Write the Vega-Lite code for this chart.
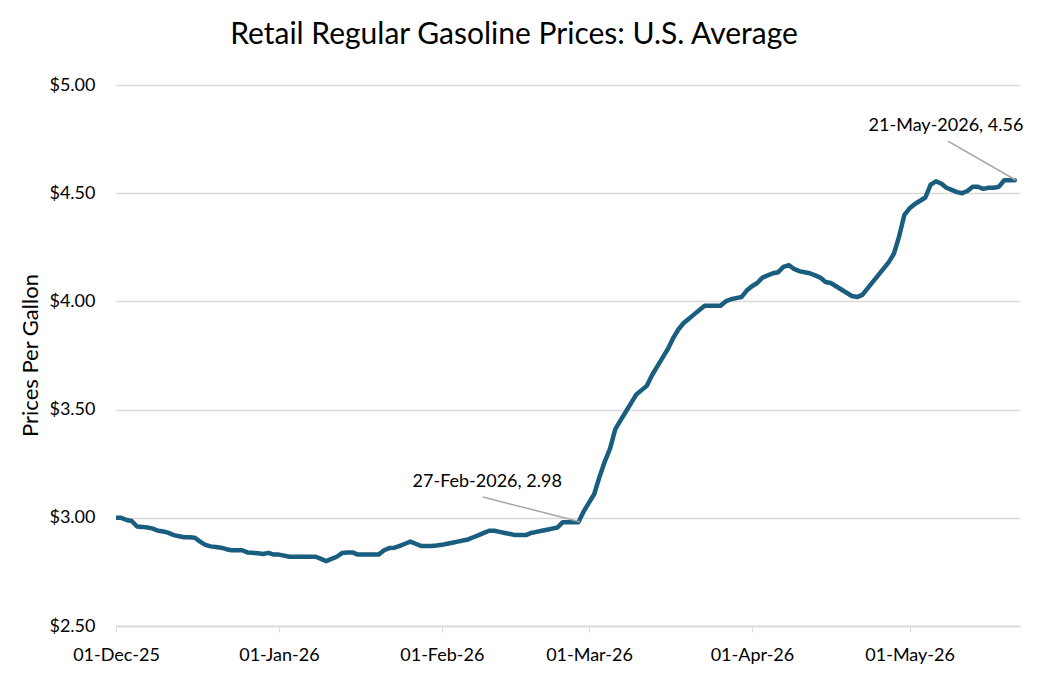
{
  "$schema": "https://vega.github.io/schema/vega-lite/v6.json",
  "width": 904,
  "height": 541,
  "autosize": {"type": "none"},
  "padding": {"left": 116, "top": 85, "right": 24, "bottom": 54},
  "background": "white",
  "config": {"view": {"stroke": null}, "font": "Lato"},
  "title": {"text": "Retail Regular Gasoline Prices: U.S. Average", "fontSize": 30, "fontWeight": "normal", "color": "#000000", "anchor": "middle", "dx": -54, "offset": 26, "font": "Lato"},
  "datasets": {
    "prices": [
      {"date": "2025-12-01", "price": 3.00}, {"date": "2025-12-02", "price": 3.00}, {"date": "2025-12-03", "price": 2.99},
      {"date": "2025-12-04", "price": 2.985}, {"date": "2025-12-05", "price": 2.96}, {"date": "2025-12-06", "price": 2.958},
      {"date": "2025-12-07", "price": 2.955}, {"date": "2025-12-08", "price": 2.95}, {"date": "2025-12-09", "price": 2.94},
      {"date": "2025-12-10", "price": 2.937}, {"date": "2025-12-11", "price": 2.93}, {"date": "2025-12-12", "price": 2.92},
      {"date": "2025-12-13", "price": 2.915}, {"date": "2025-12-14", "price": 2.91}, {"date": "2025-12-15", "price": 2.91},
      {"date": "2025-12-16", "price": 2.908}, {"date": "2025-12-17", "price": 2.89}, {"date": "2025-12-18", "price": 2.875},
      {"date": "2025-12-19", "price": 2.868}, {"date": "2025-12-20", "price": 2.865}, {"date": "2025-12-21", "price": 2.862},
      {"date": "2025-12-22", "price": 2.855}, {"date": "2025-12-23", "price": 2.85}, {"date": "2025-12-24", "price": 2.85},
      {"date": "2025-12-25", "price": 2.85}, {"date": "2025-12-26", "price": 2.84}, {"date": "2025-12-27", "price": 2.838},
      {"date": "2025-12-28", "price": 2.836}, {"date": "2025-12-29", "price": 2.833}, {"date": "2025-12-30", "price": 2.838},
      {"date": "2025-12-31", "price": 2.83}, {"date": "2026-01-01", "price": 2.83}, {"date": "2026-01-02", "price": 2.825},
      {"date": "2026-01-03", "price": 2.82}, {"date": "2026-01-04", "price": 2.82}, {"date": "2026-01-05", "price": 2.82},
      {"date": "2026-01-06", "price": 2.82}, {"date": "2026-01-07", "price": 2.82}, {"date": "2026-01-08", "price": 2.82},
      {"date": "2026-01-09", "price": 2.81}, {"date": "2026-01-10", "price": 2.80}, {"date": "2026-01-11", "price": 2.81},
      {"date": "2026-01-12", "price": 2.82}, {"date": "2026-01-13", "price": 2.837}, {"date": "2026-01-14", "price": 2.84},
      {"date": "2026-01-15", "price": 2.84}, {"date": "2026-01-16", "price": 2.83}, {"date": "2026-01-17", "price": 2.83},
      {"date": "2026-01-18", "price": 2.83}, {"date": "2026-01-19", "price": 2.83}, {"date": "2026-01-20", "price": 2.83},
      {"date": "2026-01-21", "price": 2.85}, {"date": "2026-01-22", "price": 2.86}, {"date": "2026-01-23", "price": 2.862},
      {"date": "2026-01-24", "price": 2.87}, {"date": "2026-01-25", "price": 2.88}, {"date": "2026-01-26", "price": 2.89},
      {"date": "2026-01-27", "price": 2.88}, {"date": "2026-01-28", "price": 2.87}, {"date": "2026-01-29", "price": 2.87},
      {"date": "2026-01-30", "price": 2.87}, {"date": "2026-01-31", "price": 2.872}, {"date": "2026-02-01", "price": 2.875},
      {"date": "2026-02-02", "price": 2.88}, {"date": "2026-02-03", "price": 2.885}, {"date": "2026-02-04", "price": 2.89},
      {"date": "2026-02-05", "price": 2.895}, {"date": "2026-02-06", "price": 2.90}, {"date": "2026-02-07", "price": 2.91},
      {"date": "2026-02-08", "price": 2.92}, {"date": "2026-02-09", "price": 2.93}, {"date": "2026-02-10", "price": 2.94},
      {"date": "2026-02-11", "price": 2.94}, {"date": "2026-02-12", "price": 2.935}, {"date": "2026-02-13", "price": 2.93},
      {"date": "2026-02-14", "price": 2.925}, {"date": "2026-02-15", "price": 2.92}, {"date": "2026-02-16", "price": 2.92},
      {"date": "2026-02-17", "price": 2.92}, {"date": "2026-02-18", "price": 2.93}, {"date": "2026-02-19", "price": 2.935},
      {"date": "2026-02-20", "price": 2.94}, {"date": "2026-02-21", "price": 2.945}, {"date": "2026-02-22", "price": 2.95},
      {"date": "2026-02-23", "price": 2.955}, {"date": "2026-02-24", "price": 2.98}, {"date": "2026-02-25", "price": 2.98},
      {"date": "2026-02-26", "price": 2.98}, {"date": "2026-02-27", "price": 2.98}, {"date": "2026-02-28", "price": 3.03},
      {"date": "2026-03-01", "price": 3.07}, {"date": "2026-03-02", "price": 3.11}, {"date": "2026-03-03", "price": 3.19},
      {"date": "2026-03-04", "price": 3.26}, {"date": "2026-03-05", "price": 3.32}, {"date": "2026-03-06", "price": 3.41},
      {"date": "2026-03-07", "price": 3.45}, {"date": "2026-03-08", "price": 3.49}, {"date": "2026-03-09", "price": 3.53},
      {"date": "2026-03-10", "price": 3.57}, {"date": "2026-03-11", "price": 3.59}, {"date": "2026-03-12", "price": 3.61},
      {"date": "2026-03-13", "price": 3.66}, {"date": "2026-03-14", "price": 3.70}, {"date": "2026-03-15", "price": 3.74},
      {"date": "2026-03-16", "price": 3.78}, {"date": "2026-03-17", "price": 3.83}, {"date": "2026-03-18", "price": 3.87},
      {"date": "2026-03-19", "price": 3.90}, {"date": "2026-03-20", "price": 3.92}, {"date": "2026-03-21", "price": 3.94},
      {"date": "2026-03-22", "price": 3.96}, {"date": "2026-03-23", "price": 3.98}, {"date": "2026-03-24", "price": 3.98},
      {"date": "2026-03-25", "price": 3.98}, {"date": "2026-03-26", "price": 3.98}, {"date": "2026-03-27", "price": 4.00},
      {"date": "2026-03-28", "price": 4.01}, {"date": "2026-03-29", "price": 4.015}, {"date": "2026-03-30", "price": 4.02},
      {"date": "2026-03-31", "price": 4.05}, {"date": "2026-04-01", "price": 4.07}, {"date": "2026-04-02", "price": 4.085},
      {"date": "2026-04-03", "price": 4.11}, {"date": "2026-04-04", "price": 4.12}, {"date": "2026-04-05", "price": 4.13},
      {"date": "2026-04-06", "price": 4.135}, {"date": "2026-04-07", "price": 4.16}, {"date": "2026-04-08", "price": 4.168},
      {"date": "2026-04-09", "price": 4.15}, {"date": "2026-04-10", "price": 4.14}, {"date": "2026-04-11", "price": 4.135},
      {"date": "2026-04-12", "price": 4.13}, {"date": "2026-04-13", "price": 4.12}, {"date": "2026-04-14", "price": 4.11},
      {"date": "2026-04-15", "price": 4.09}, {"date": "2026-04-16", "price": 4.085}, {"date": "2026-04-17", "price": 4.07},
      {"date": "2026-04-18", "price": 4.055}, {"date": "2026-04-19", "price": 4.04}, {"date": "2026-04-20", "price": 4.025},
      {"date": "2026-04-21", "price": 4.02}, {"date": "2026-04-22", "price": 4.03}, {"date": "2026-04-23", "price": 4.06},
      {"date": "2026-04-24", "price": 4.09}, {"date": "2026-04-25", "price": 4.12}, {"date": "2026-04-26", "price": 4.15},
      {"date": "2026-04-27", "price": 4.18}, {"date": "2026-04-28", "price": 4.22}, {"date": "2026-04-29", "price": 4.30},
      {"date": "2026-04-30", "price": 4.40}, {"date": "2026-05-01", "price": 4.43}, {"date": "2026-05-02", "price": 4.45},
      {"date": "2026-05-03", "price": 4.465}, {"date": "2026-05-04", "price": 4.48}, {"date": "2026-05-05", "price": 4.54},
      {"date": "2026-05-06", "price": 4.555}, {"date": "2026-05-07", "price": 4.545}, {"date": "2026-05-08", "price": 4.525},
      {"date": "2026-05-09", "price": 4.515}, {"date": "2026-05-10", "price": 4.505}, {"date": "2026-05-11", "price": 4.50},
      {"date": "2026-05-12", "price": 4.51}, {"date": "2026-05-13", "price": 4.53}, {"date": "2026-05-14", "price": 4.53},
      {"date": "2026-05-15", "price": 4.52}, {"date": "2026-05-16", "price": 4.525}, {"date": "2026-05-17", "price": 4.525},
      {"date": "2026-05-18", "price": 4.53}, {"date": "2026-05-19", "price": 4.56}, {"date": "2026-05-20", "price": 4.56},
      {"date": "2026-05-21", "price": 4.56}
    ],
    "labels": [
      {"label": "27-Feb-2026, 2.98", "tx": "2026-02-09T15:00:00Z", "ty": 3.165, "lx1": "2026-02-08T19:00:00Z", "ly1": 3.096, "lx2": "2026-02-27T06:00:00Z", "ly2": 2.982},
      {"label": "21-May-2026, 4.56", "tx": "2026-05-07T22:00:00Z", "ty": 4.81, "lx1": "2026-05-08T07:00:00Z", "ly1": 4.741, "lx2": "2026-05-21T04:00:00Z", "ly2": 4.561}
    ]
  },
  "layer": [
    {
      "data": {"name": "prices"},
      "mark": {"type": "line", "color": "#1a5e7f", "strokeWidth": 4.5, "strokeCap": "round", "strokeJoin": "round", "clip": true},
      "encoding": {
        "x": {
          "field": "date", "type": "temporal",
          "scale": {"type": "utc", "domain": [{"year": 2025, "month": 12, "date": 1, "utc": true}, {"year": 2026, "month": 5, "date": 22, "utc": true}]},
          "axis": {
            "title": null,
            "format": "%d-%b-%y",
            "values": [
              {"year": 2025, "month": 12, "date": 1, "utc": true},
              {"year": 2026, "month": 1, "date": 1, "utc": true},
              {"year": 2026, "month": 2, "date": 1, "utc": true},
              {"year": 2026, "month": 3, "date": 1, "utc": true},
              {"year": 2026, "month": 4, "date": 1, "utc": true},
              {"year": 2026, "month": 5, "date": 1, "utc": true}
            ],
            "grid": false,
            "domainColor": "#d9d9d9", "domainWidth": 1.5,
            "tickColor": "#d9d9d9", "tickSize": 6, "tickWidth": 1,
            "labelFontSize": 18, "labelColor": "#000000", "labelPadding": 14, "labelFont": "Lato",
            "labelFlush": false, "labelOverlap": false
          }
        },
        "y": {
          "field": "price", "type": "quantitative",
          "scale": {"domain": [2.5, 5.0], "nice": false, "zero": false},
          "axis": {
            "title": "Prices Per Gallon",
            "titleFontSize": 22, "titleFontWeight": "normal", "titleColor": "#000000", "titleFont": "Lato",
            "titleAngle": -90, "titleX": -86, "titleY": 270, "titleAlign": "center", "titleBaseline": "middle",
            "format": "$.2f",
            "values": [2.5, 3.0, 3.5, 4.0, 4.5, 5.0],
            "domain": false, "ticks": false,
            "grid": true, "gridColor": "#d9d9d9", "gridWidth": 1.5,
            "labelFontSize": 18, "labelColor": "#000000", "labelPadding": 21, "labelFont": "Lato"
          }
        }
      }
    },
    {
      "data": {"name": "labels"},
      "mark": {"type": "rule", "color": "#a6a6a6", "strokeWidth": 1.5},
      "encoding": {
        "x": {"field": "lx1", "type": "temporal"},
        "y": {"field": "ly1", "type": "quantitative"},
        "x2": {"field": "lx2"},
        "y2": {"field": "ly2"}
      }
    },
    {
      "data": {"name": "labels"},
      "mark": {"type": "text", "fontSize": 18, "color": "#000000", "font": "Lato", "align": "center", "baseline": "middle"},
      "encoding": {
        "x": {"field": "tx", "type": "temporal"},
        "y": {"field": "ty", "type": "quantitative"},
        "text": {"field": "label"}
      }
    }
  ]
}
